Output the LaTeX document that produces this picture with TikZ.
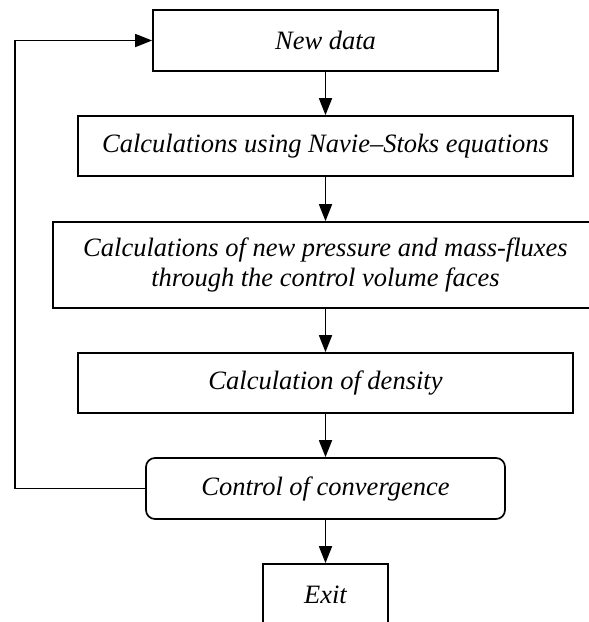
\documentclass[tikz,border=0pt]{standalone}
\usepackage{fontspec}
\setmainfont{Liberation Serif}
\usetikzlibrary{arrows.meta}
\begin{document}
\begin{tikzpicture}[x=1pt,y=-1pt,
  font=\fontsize{26.5}{29.5}\selectfont\itshape,
  stepbox/.style={draw, line width=1.7pt, inner sep=0pt, align=center},
  flow/.style={line width=1.7pt, -{Triangle[length=17pt,width=13pt]}}]
\useasboundingbox (0,0) rectangle (589,622);
\clip (0,0) rectangle (589,622);
\fill[white] (0,0) rectangle (589,622);

\node[stepbox, minimum width=345pt, minimum height=61pt] (newdata) at (325.5,40.5) {New data};
\node[stepbox, minimum width=495pt, minimum height=60pt] (navier) at (325.5,146) {Calculations using Navie–Stoks equations};
\node[stepbox, minimum width=545pt, minimum height=86pt] (pressure) at (325.5,265) {Calculations of new pressure and mass-fluxes\\through the control volume faces};
\node[stepbox, minimum width=495pt, minimum height=60pt] (density) at (325.5,383) {Calculation of density};
\node[stepbox, rounded corners=9pt, minimum width=359pt, minimum height=61pt] (conv) at (325.5,488.5) {Control of convergence};
\node[stepbox, minimum width=125pt, minimum height=62pt] (exit) at (325.5,595) {Exit};

\draw[flow] (newdata) -- (navier);
\draw[flow] (navier) -- (pressure);
\draw[flow] (pressure) -- (density);
\draw[flow] (density) -- (conv);
\draw[flow] (conv) -- (exit);
\draw[flow] (conv.west) -- (15,488.5) -- (15,40.5) -- (newdata.west);
\end{tikzpicture}
\end{document}
